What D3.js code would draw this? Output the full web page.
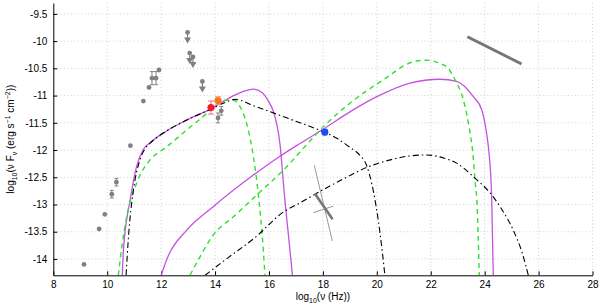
<!DOCTYPE html>
<html><head><meta charset="utf-8">
<script src="https://cdn.jsdelivr.net/npm/d3@7"></script>
<style>body{margin:0;background:#fff}svg{display:block}text{font-family:"Liberation Sans",Arial,sans-serif}</style>
</head><body><svg id="c" width="600" height="304"></svg>
<script>
// ---- data ----
const xTicks = [8,10,12,14,16,18,20,22,24,26,28];
const yTicks = [-14,-13.5,-13,-12.5,-12,-11.5,-11,-10.5,-10,-9.5];

// archival grey points [logNu, logNuFnu, err]
const greyX = [9.14,9.70,9.91,10.17,10.34,10.86,11.34,11.55,11.66,11.81,11.92,14.11,14.23];
const greyY = [-14.10,-13.45,-13.18,-12.81,-12.59,-11.92,-11.10,-10.85,-10.68,-10.68,-10.53,-11.41,-11.28];
const greyE = [0,0,0,0.07,0.07,0,0,0,0.12,0.12,0,0.09,0.08];
// upper limits
const ulX = [12.98,13.06,13.18,13.53];
const ulY = [-9.84,-10.22,-10.29,-10.74];
// coloured points
const redPt = [13.85,-11.22,0.12];
const orangePt = [14.11,-11.09,0.07];
const bluePt = [18.07,-11.67,0.05];
// gamma-ray (upper right) and X-ray bowtie
const gammaLine = [[23.36,-9.92],[25.37,-10.42]];
const bowThin1 = [[17.68,-12.28],[18.35,-13.67]];
const bowThin2 = [[17.64,-13.15],[18.39,-13.03]];
const bowThick = [[17.70,-12.80],[18.36,-13.27]];

// model curves
const blackSync = [[10.70,-14.3],[10.78,-13.65],[10.97,-12.74],[11.2,-12.2],[11.4,-11.98],[11.6,-11.87],[12.2,-11.65],[12.95,-11.45],[13.93,-11.23],[14.4,-11.12],[14.74,-11.07],[15.5,-11.2],[16.5,-11.38],[17.15,-11.5],[18.0,-11.66],[18.5,-11.78],[19.0,-11.95],[19.38,-12.1],[19.62,-12.28],[19.81,-12.61],[20.12,-13.53],[20.3,-14.3]];
const blackIC = [[13.63,-14.3],[14.5,-13.97],[15.5,-13.6],[16.5,-13.15],[17.15,-12.97],[18,-12.73],[18.8,-12.52],[19.62,-12.32],[20.5,-12.18],[21.2,-12.11],[21.85,-12.09],[22.5,-12.15],[22.96,-12.24],[23.58,-12.49],[24.32,-12.86],[24.57,-13.04],[25.06,-13.47],[25.4,-13.9],[25.62,-14.3]];
const magSync = [[10.56,-14.3],[10.6,-13.84],[10.85,-12.92],[11.09,-12.3],[11.35,-11.98],[11.6,-11.86],[12.2,-11.65],[12.95,-11.45],[13.93,-11.22],[14.5,-11.05],[15.0,-10.93],[15.42,-10.88],[15.75,-10.95],[16.0,-11.12],[16.14,-11.26],[16.41,-11.9],[16.59,-12.92],[16.75,-13.7],[16.87,-14.3]];
const magIC = [[12.0,-14.3],[12.25,-13.96],[12.95,-13.47],[13.93,-13.04],[15.42,-12.46],[16.3,-12.15],[17.15,-11.88],[18.07,-11.6],[19,-11.3],[20.0,-11.02],[21.23,-10.77],[22.34,-10.7],[22.96,-10.74],[23.58,-11.02],[23.89,-11.26],[24.07,-11.69],[24.15,-12.0],[24.26,-12.86],[24.32,-14.3]];
const greenSync = [[10.41,-14.3],[10.55,-13.75],[10.72,-13.23],[11.09,-12.61],[11.59,-12.18],[12.04,-12.0],[12.2,-11.94],[12.95,-11.63],[13.69,-11.33],[14.1,-11.15],[14.43,-11.08],[14.65,-11.08],[14.92,-11.2],[15.17,-11.51],[15.36,-11.94],[15.6,-12.8],[15.79,-13.84],[15.85,-14.3]];
const greenIC = [[13.07,-14.3],[13.44,-13.96],[13.93,-13.56],[14.67,-13.23],[15.6,-12.8],[16.65,-12.31],[17.4,-11.9],[18.02,-11.57],[19.0,-11.14],[20.24,-10.71],[21.35,-10.38],[21.85,-10.35],[22.34,-10.41],[22.65,-10.5],[22.9,-10.71],[23.21,-11.08],[23.46,-11.69],[23.55,-12.0],[23.65,-12.6],[23.71,-12.92],[23.8,-14.3]];

// ---- drawing ----
const svg = d3.select("#c");
const L = 53.3, R = 592.5, T = 3, B = 275.3;
const x = d3.scaleLinear().domain([8,28]).range([L,R]);
const y = d3.scaleLinear().domain([-14.3,-9.3]).range([B,T]);

svg.append("defs").append("clipPath").attr("id","clip")
  .append("rect").attr("x",L).attr("y",T).attr("width",R-L).attr("height",B-T);

// grid
const grid = svg.append("g").attr("stroke","#c4c4c4").attr("stroke-width",0.8).attr("stroke-dasharray","1,2.5");
grid.selectAll(".gx").data(xTicks.slice(1)).join("line")
  .attr("x1",d=>x(d)).attr("x2",d=>x(d)).attr("y1",T).attr("y2",B);
grid.selectAll(".gy").data(yTicks).join("line")
  .attr("x1",L).attr("x2",R).attr("y1",d=>y(d)).attr("y2",d=>y(d));

// axes
const fmt = d => (d<0?"-":"") + Math.abs(d);
const xAxis = d3.axisBottom(x).tickValues(xTicks).tickFormat(d=>d).tickSizeInner(-4).tickSizeOuter(0).tickPadding(6);
const yAxis = d3.axisLeft(y).tickValues(yTicks).tickFormat(fmt).tickSizeInner(-4).tickSizeOuter(0).tickPadding(6);
const gx = svg.append("g").attr("transform",`translate(0,${B})`).call(xAxis);
const gy = svg.append("g").attr("transform",`translate(${L},0)`).call(yAxis);
[gx,gy].forEach(g=>{
  g.select(".domain").attr("stroke","#000");
  g.selectAll(".tick line").attr("stroke","#000");
  g.selectAll("text").attr("font-size",10).attr("fill","#000").attr("font-family","'Liberation Sans',Arial,sans-serif");
});

// axis labels
const xl = svg.append("text").attr("x",(L+R)/2).attr("y",300).attr("text-anchor","middle").attr("font-size",10);
xl.append("tspan").text("log");
xl.append("tspan").attr("font-size",7).attr("dy",3).text("10");
xl.append("tspan").attr("dy",-3).text("(ν (Hz))");

const yl = svg.append("text").attr("transform",`translate(14,${(T+B)/2}) rotate(-90)`).attr("text-anchor","middle").attr("font-size",10);
yl.append("tspan").text("log");
yl.append("tspan").attr("font-size",7).attr("dy",3).text("10");
yl.append("tspan").attr("dy",-3).text("(ν F");
yl.append("tspan").attr("font-size",7).attr("dy",3).text("ν");
yl.append("tspan").attr("dy",-3).text(" (erg s");
yl.append("tspan").attr("font-size",7).attr("dy",-4).text("−1");
yl.append("tspan").attr("dy",4).text(" cm");
yl.append("tspan").attr("font-size",7).attr("dy",-4).text("−2");
yl.append("tspan").attr("dy",4).text("))");

const plot = svg.append("g").attr("clip-path","url(#clip)");
const line = d3.line().x(d=>x(d[0])).y(d=>y(d[1])).curve(d3.curveMonotoneX);
const straight = d3.line().x(d=>x(d[0])).y(d=>y(d[1]));

function curve(data,color,dash,w){
  plot.append("path").attr("d",line(data)).attr("fill","none").attr("stroke",color)
    .attr("stroke-width",w).attr("stroke-dasharray",dash);
}
curve(magSync,"#c651e0",null,1.3);
curve(magIC,"#c651e0",null,1.3);
curve(greenSync,"#2fe02f","5,4",1.4);
curve(greenIC,"#2fe02f","5,4",1.4);
curve(blackSync,"#000","6,3,1.5,3",1.1);
curve(blackIC,"#000","6,3,1.5,3",1.1);

// gamma-ray line
plot.append("path").attr("d",straight(gammaLine)).attr("stroke","#777").attr("stroke-width",3).attr("fill","none");
// bowtie
[bowThin1,bowThin2].forEach(s=>plot.append("path").attr("d",straight(s)).attr("stroke","#999").attr("stroke-width",1).attr("fill","none"));
plot.append("path").attr("d",straight(bowThick)).attr("stroke","#777").attr("stroke-width",2.6).attr("fill","none");

// grey points
const grey = "#808080";
greyX.forEach((gxv,i)=>{
  if(greyE[i]>0){
    plot.append("line").attr("x1",x(gxv)).attr("x2",x(gxv)).attr("y1",y(greyY[i]-greyE[i])).attr("y2",y(greyY[i]+greyE[i])).attr("stroke",grey).attr("stroke-width",1);
    [greyY[i]-greyE[i],greyY[i]+greyE[i]].forEach(v=>plot.append("line").attr("x1",x(gxv)-2).attr("x2",x(gxv)+2).attr("y1",y(v)).attr("y2",y(v)).attr("stroke",grey).attr("stroke-width",1));
  }
  plot.append("circle").attr("cx",x(gxv)).attr("cy",y(greyY[i])).attr("r",2.4).attr("fill",grey);
});
// upper limits
ulX.forEach((ux,i)=>{
  const cx = x(ux), cy = y(ulY[i]);
  plot.append("line").attr("x1",cx).attr("x2",cx).attr("y1",cy).attr("y2",cy+8).attr("stroke",grey).attr("stroke-width",1.2);
  plot.append("path").attr("d",`M${cx-3.5},${cy+5}L${cx+3.5},${cy+5}L${cx},${cy+11}Z`).attr("fill",grey);
  plot.append("circle").attr("cx",cx).attr("cy",cy).attr("r",2.4).attr("fill",grey);
});
// coloured points with error bars
function ptErr(p,col,errCol){
  const cx=x(p[0]);
  plot.append("line").attr("x1",cx).attr("x2",cx).attr("y1",y(p[1]-p[2])).attr("y2",y(p[1]+p[2])).attr("stroke",errCol).attr("stroke-width",1);
  [p[1]-p[2],p[1]+p[2]].forEach(v=>plot.append("line").attr("x1",cx-3).attr("x2",cx+3).attr("y1",y(v)).attr("y2",y(v)).attr("stroke",errCol).attr("stroke-width",1));
  plot.append("circle").attr("cx",cx).attr("cy",y(p[1])).attr("r",3.6).attr("fill",col);
}
ptErr(redPt,"#ee1c2c","#f07080");
ptErr(orangePt,"#f57a1e","#f5a060");
ptErr(bluePt,"#1f4cf0","#7090f0");
</script></body></html>
